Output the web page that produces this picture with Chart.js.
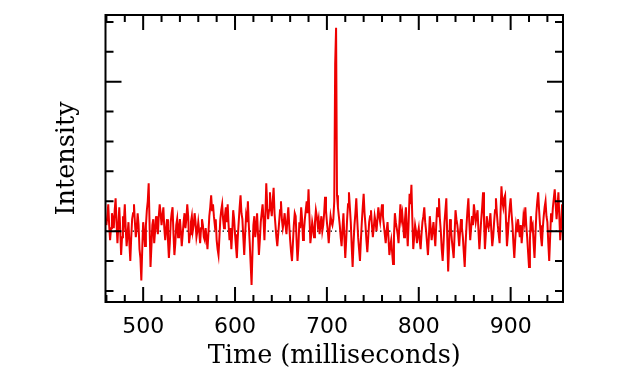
<!DOCTYPE html>
<html><head><meta charset="utf-8">
<script src="https://cdn.jsdelivr.net/npm/chart.js@4/dist/chart.umd.min.js"></script>
<style>html,body{margin:0;padding:0;background:#fff}#wrap{width:620px;height:375px}</style>
</head><body><div id="wrap"><canvas id="c" width="620" height="375"></canvas></div>
<script>
// Sampling of the trace (ms)
const startMs = 460;
const stepMs = 1;
// Intensity values (arbitrary units, baseline 0), 460..956 ms
const intensity = [
 0.2,0.5, 0.9,0.2, -0.3,0.1, 0.6,0.4, 0.1,0.7, 1.1,0.3, -0.4,0.2, 0.8,0.1, -0.8,-0.2, 0.5,0.3,
 0.9,0.1, -0.5,-0.1, 0.3,-0.4, -1.0,-0.2, 0.4,0.6, 0.9,0.3, -0.2,0.1, 0.6,0.2, -0.6,-0.9, -1.65,-0.6,
 0.3,0.0, -0.5,0.2, 0.7,1.0, 1.6,0.2, -1.2,-0.5, 0.2,0.4, -0.4,0.0, 0.5,0.2, -0.1,0.5, 0.9,0.6,
 0.2,0.5, 0.8,0.1, -0.3,0.1, 0.4,-0.3, -0.9,-0.4, 0.3,0.6, 0.8,-0.1, -0.8,-0.4, 0.2,0.4, -0.2,0.1,
 0.4,0.0, -0.5,-0.1, 0.3,0.6, 0.1,0.4, 0.9,0.5, -0.4,-0.1, 0.3,0.5, 0.0,0.2, 0.6,0.3, -0.2,0.0,

 0.3,0.0, -0.4,0.1, 0.4,0.2, -0.2,-0.3, 0.1,-0.2, -0.6,-0.1, 0.5,0.8, 1.2,0.7, 0.9,0.5, 0.2,0.4,
 -0.3,-0.6, -0.8,-0.2, 0.4,0.7, 0.9,0.4, 0.1,0.5, 0.8,0.3, 0.9,0.2, -0.3,0.1, -0.6,0.0, 0.7,0.4,
 -0.1,-0.5, -0.9,-0.2, 0.3,0.8, 1.2,0.6, 0.4,-0.2, -0.8,-0.1, 0.5,0.3, 1.0,0.2, -0.4,-1.1, -1.8,-0.7,
 0.2,0.5, -0.2,0.1, 0.6,-0.1, -0.8,-0.3, 0.3,0.6, 0.9,0.4, -0.3,0.5, 1.6,0.9, 0.4,0.7, 1.3,0.8,
 0.5,1.0, 1.45,0.6, 0.2,-0.2, -0.5,-0.1, 0.3,0.7, 1.0,0.4, 0.1,0.3, 0.6,0.2, -0.1,0.4, 0.8,0.2,

 -0.3,-0.7, -1.0,-0.4, 0.2,0.6, 0.5,-0.3, -1.0,-0.5, 0.3,0.1, 0.8,0.4, -0.3,0.0, 0.4,0.7, 1.0,0.6,
 1.4,0.5, -0.4,-0.1, 0.3,0.1, -0.2,0.3, 0.7,0.5, 0.2,0.4, -0.1,0.2, 0.5,0.0, 0.2,0.6, 1.15,0.7,
 0.3,0.0, -0.4,0.1, 0.5,0.3, 0.2,0.4, 1.0,5.6, 6.8,1.2, 0.8,0.5, 0.2,-0.2, -0.5,0.1, 0.6,-0.2,
 -0.9,-0.3, 0.4,0.9, 1.3,0.8, 0.3,-0.5, -1.2,-0.4, 0.2,0.6, 1.1,0.4, -0.2,-0.6, -1.0,-0.3, 0.3,0.8,
 1.25,0.6, 0.2,-0.3, -0.7,-0.2, 0.3,0.5, 0.7,0.2, -0.2,0.1, 0.5,0.3, 0.0,0.4, 0.8,0.5, 0.3,0.6,

 0.9,0.5, 0.2,-0.1, -0.4,0.0, 0.3,-0.2, -0.8,-0.5, -0.3,-0.7, -1.1,-0.2, 0.6,0.3, 0.1,-0.1, -0.4,0.3,
 0.9,0.4, 0.6,0.2, -0.2,0.4, 0.8,0.1, -0.5,0.3, 1.25,0.9, 1.55,0.4, -0.6,-0.2, 0.2,0.0, -0.4,-0.1,
 0.1,-0.3, -0.6,-0.1, 0.3,0.5, 0.8,0.3, 0.0,-0.4, -0.8,-0.2, 0.5,0.1, -0.3,0.0, 0.3,-0.1, -0.5,0.2,
 0.8,0.5, 1.1,0.4, 0.0,-0.6, -1.0,-0.4, 0.3,0.7, 1.1,-0.2, -1.35,-0.5, 0.4,0.1, -0.3,-0.6, -0.9,-0.1,
 0.7,0.4, 0.2,-0.1, -0.5,0.0, 0.4,0.1, -0.2,-0.7, -1.2,-0.4, 0.2,0.7, 1.1,0.3, -0.3,0.1, 0.5,0.2,

 0.9,0.6, 0.3,0.5, 0.7,0.0, -0.6,-0.1, 0.4,0.8, 1.3,0.4, -0.6,-0.1, 0.5,0.2, 0.1,0.3, 0.6,0.0,
 -0.5,-0.2, 0.3,0.7, 1.1,0.6, 0.2,-0.1, -0.4,0.6, 1.5,1.0, 0.8,1.1, 1.2,0.3, -0.5,-0.1, 0.4,0.8,
 1.1,0.6, 0.2,-0.4, -0.9,-0.3, 0.2,0.0, 0.4,0.1, -0.2,0.2, -0.4,0.0, 0.5,0.3, 0.8,0.2, -0.2,-0.7,
 -1.2,-0.3, 0.5,0.1, 0.2,-0.4, -0.9,-0.1, 0.6,1.0, 1.3,0.7, 0.2,-0.2, -0.5,0.1, 0.5,0.8, 1.0,0.5,
 0.3,-0.4, -1.0,-0.2, 0.6,0.3, 0.8,1.1, 1.4,0.9, 0.4,0.8, 1.3,0.5, -0.3,0.2, 0.9
];
// Axis ranges and tick marks
const xRange = [459, 957];
const yRange = [-2.37, 7.23];
const xMinorTicks = [460,480,500,520,540,560,580,600,620,640,660,680,700,720,740,760,780,800,820,840,860,880,900,920,940];
const xMajorTicks = [500,600,700,800,900];
const yMinorTicks = [-2,-1,0,1,2,3,4,5,6,7];
const yMajorTicks = [0,5];
const xTitle = 'Time (milliseconds)';
const yTitle = 'Intensity';

const points = intensity.map((v,i)=>({x:startMs+i*stepMs, y:v}));

const frameTicks = {
  id:'frameTicks',
  beforeDatasetsDraw(chart){
    const {ctx, chartArea:a, scales:{y}} = chart;
    const py = y.getPixelForValue(0);
    ctx.save();
    ctx.strokeStyle='#000'; ctx.lineWidth=1.2; ctx.setLineDash([1.5,3]);
    ctx.beginPath(); ctx.moveTo(a.left,py); ctx.lineTo(a.right,py); ctx.stroke();
    ctx.restore();
  },
  afterDatasetsDraw(chart){
    const {ctx, chartArea:a, scales:{x,y}} = chart;
    ctx.save();
    ctx.strokeStyle='#000'; ctx.lineWidth=2; ctx.lineCap='butt';
    ctx.beginPath();
    xMinorTicks.forEach(v=>{
      const px = x.getPixelForValue(v);
      const L = xMajorTicks.includes(v) ? 15 : 7;
      ctx.moveTo(px,a.bottom); ctx.lineTo(px,a.bottom-L);
      ctx.moveTo(px,a.top); ctx.lineTo(px,a.top+L);
    });
    yMinorTicks.forEach(v=>{
      const py = y.getPixelForValue(v);
      const L = yMajorTicks.includes(v) ? 16 : 8;
      ctx.moveTo(a.left,py); ctx.lineTo(a.left+L,py);
      ctx.moveTo(a.right,py); ctx.lineTo(a.right-L,py);
    });
    ctx.stroke();
    ctx.strokeRect(a.left,a.top,a.right-a.left,a.bottom-a.top);
    ctx.restore();
  }
};

new Chart(document.getElementById('c'), {
  type:'line',
  data:{datasets:[{data:points, borderColor:'#ee0000', borderWidth:2, pointRadius:0, tension:0, fill:false}]},
  options:{
    responsive:false, animation:false, devicePixelRatio:1,
    layout:{padding:{top:15,right:57,left:0,bottom:0}},
    plugins:{legend:{display:false}, tooltip:{enabled:false}},
    scales:{
      x:{type:'linear', min:xRange[0], max:xRange[1],
        grid:{display:false, drawTicks:false}, border:{display:false},
        afterBuildTicks(s){ s.ticks = xMajorTicks.map(v=>({value:v})); },
        ticks:{autoSkip:false, maxRotation:0, padding:12, color:'#000',
          font:{family:'DejaVu Sans', size:22}},
        title:{display:true, text:xTitle, color:'#000', padding:{top:0,bottom:3},
          font:{family:'DejaVu Serif', size:25.5}},
        afterFit(s){ s.height = 73; }
      },
      y:{type:'linear', min:yRange[0], max:yRange[1],
        grid:{display:false, drawTicks:false}, border:{display:false},
        ticks:{display:false},
        title:{display:true, text:yTitle, color:'#000', padding:{top:52,bottom:0},
          font:{family:'DejaVu Serif', size:25.5}},
        afterFit(s){ s.width = 105.5; }
      }
    }
  },
  plugins:[frameTicks]
});
</script></body></html>
